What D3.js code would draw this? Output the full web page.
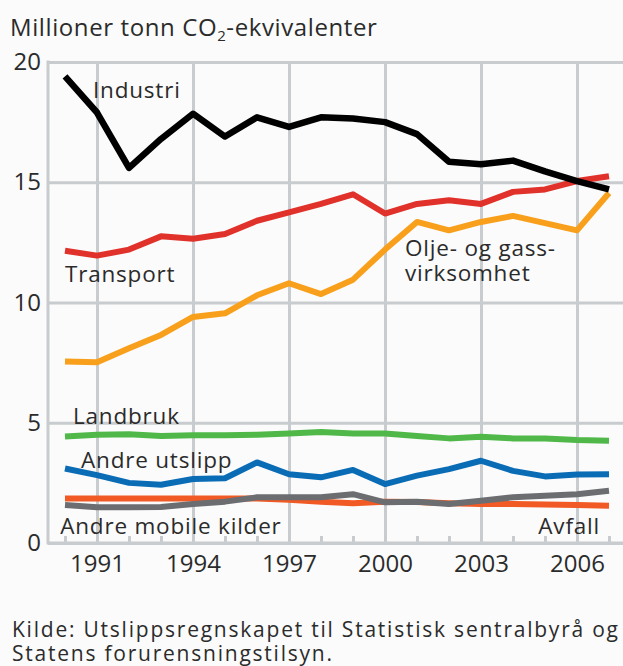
<!DOCTYPE html>
<html>
<head>
<meta charset="utf-8">
<script src="https://cdn.jsdelivr.net/npm/d3@7"></script>
<style>
  body { margin: 0; background: #fbfbfb; }
  svg { display: block; font-family: "Open Sans", sans-serif; }
  .grid line { stroke: #c8ccce; stroke-width: 3; }
  .grid path { display: none; }
  .grid .tick text { fill: #2b2b2b; font-size: 24px; font-family: "Open Sans", sans-serif; }
</style>
</head>
<body>
<div class="chart"></div>
<script>
// data
var years = d3.range(1990, 2008);
var labelYears = [1991, 1994, 1997, 2000, 2003, 2006];
var yTicks = [0, 5, 10, 15, 20];

var industri     = [19.4, 17.9, 15.6, 16.8, 17.85, 16.9, 17.7, 17.3, 17.7, 17.65, 17.5, 17.0, 15.85, 15.75, 15.9, 15.45, 15.05, 14.7];
var transport    = [12.15, 11.95, 12.2, 12.75, 12.65, 12.85, 13.4, 13.75, 14.1, 14.5, 13.7, 14.1, 14.25, 14.1, 14.6, 14.7, 15.05, 15.25];
var oljeGass     = [7.55, 7.52, 8.1, 8.65, 9.4, 9.55, 10.3, 10.8, 10.35, 10.95, 12.2, 13.35, 13.0, 13.35, 13.6, 13.3, 13.0, 14.55];
var landbruk     = [4.43, 4.5, 4.52, 4.45, 4.48, 4.48, 4.5, 4.55, 4.62, 4.55, 4.55, 4.45, 4.35, 4.42, 4.35, 4.35, 4.28, 4.25];
var andreUtslipp = [3.1, 2.82, 2.5, 2.42, 2.66, 2.69, 3.35, 2.86, 2.73, 3.04, 2.45, 2.8, 3.07, 3.42, 3.0, 2.77, 2.85, 2.86];
var avfall       = [1.85, 1.85, 1.85, 1.85, 1.85, 1.85, 1.85, 1.8, 1.72, 1.65, 1.72, 1.7, 1.65, 1.62, 1.62, 1.6, 1.58, 1.55];
var andreMobile  = [1.58, 1.49, 1.49, 1.5, 1.62, 1.72, 1.9, 1.9, 1.9, 2.03, 1.69, 1.72, 1.62, 1.76, 1.9, 1.96, 2.03, 2.17];

// drawing order: last on top
var series = [
  { name: "Avfall", values: avfall, color: "#f15a24" },
  { name: "Andre mobile kilder", values: andreMobile, color: "#6b6d70" },
  { name: "Andre utslipp", values: andreUtslipp, color: "#0b6cb6" },
  { name: "Landbruk", values: landbruk, color: "#4fb848" },
  { name: "Olje- og gassvirksomhet", values: oljeGass, color: "#f8a01c" },
  { name: "Transport", values: transport, color: "#e0312a" },
  { name: "Industri", values: industri, color: "#000000" }
];

// series labels, anchored in data units [year, value]
var labels = [
  { text: "Industri", at: [1990.875, 18.5], anchor: "start" },
  { text: "Transport", at: [1990, 10.85], anchor: "start" },
  { text: "Olje- og gass-", at: [2000.625, 11.95], anchor: "start" },
  { text: "virksomhet", at: [2000.625, 10.9], anchor: "start" },
  { text: "Landbruk", at: [1990.25, 4.95], anchor: "start" },
  { text: "Andre utslipp", at: [1990.5, 3.12], anchor: "start" },
  { text: "Andre mobile kilder", at: [1989.85, 0.37], anchor: "start" },
  { text: "Avfall", at: [2006.72, 0.37], anchor: "end" }
];

var svgWidth = 623;
var svgHeight = 666;
var plotLeft = 48, plotRight = 623, plotTop = 62, plotBottom = 543;

var svg = d3.select(".chart")
  .append("svg")
  .attr("width", svgWidth)
  .attr("height", svgHeight);

svg.append("rect")
  .attr("width", svgWidth)
  .attr("height", svgHeight)
  .attr("fill", "#fbfbfb");

var x = d3.scaleLinear().domain([1990, 2007]).range([65, 609]);
var y = d3.scaleLinear().domain([0, 20]).range([plotBottom, plotTop]);

// title
var title = svg.append("text")
  .attr("x", 10)
  .attr("y", 36)
  .attr("fill", "#2b2b2b")
  .style("font-size", "24px")
  .style("letter-spacing", "0.6px");
title.append("tspan").text("Millioner tonn CO");
title.append("tspan").text("2").style("font-size", "15px").attr("dy", 5);
title.append("tspan").text("-ekvivalenter").attr("dy", -5);

// horizontal grid + y labels
svg.append("g")
  .attr("class", "grid")
  .attr("transform", "translate(" + plotLeft + ",0)")
  .call(d3.axisLeft(y).tickValues(yTicks).tickSize(-(plotRight - plotLeft)).tickPadding(7));

// vertical grid + x labels
svg.append("g")
  .attr("class", "grid")
  .attr("transform", "translate(0," + plotBottom + ")")
  .call(d3.axisBottom(x).tickValues(labelYears).tickSize(-(plotBottom - plotTop)).tickPadding(12).tickFormat(d3.format("d")));

// small year ticks
svg.append("g")
  .attr("class", "grid")
  .attr("transform", "translate(0," + plotBottom + ")")
  .call(d3.axisBottom(x).tickValues(years).tickSize(-7).tickFormat(""));

// frame lines (left and bottom)
svg.append("line")
  .attr("x1", plotLeft).attr("x2", plotLeft)
  .attr("y1", plotTop - 1.5).attr("y2", plotBottom + 1.5)
  .attr("stroke", "#c8ccce").attr("stroke-width", 3);
svg.append("line")
  .attr("x1", plotLeft).attr("x2", plotRight)
  .attr("y1", plotBottom).attr("y2", plotBottom)
  .attr("stroke", "#c8ccce").attr("stroke-width", 3);

// lines
var line = d3.line()
  .x(function(d, i) { return x(years[i]); })
  .y(function(d) { return y(d); });

svg.append("g")
  .selectAll("path")
  .data(series)
  .enter()
  .append("path")
    .attr("d", function(d) { return line(d.values); })
    .attr("fill", "none")
    .attr("stroke", function(d) { return d.color; })
    .attr("stroke-width", function(d) { return d.name == "Industri" ? 6.5 : 6; })
    .attr("stroke-linejoin", "round");

// series labels
svg.append("g")
  .selectAll("text")
  .data(labels)
  .enter()
  .append("text")
    .attr("x", function(d) { return x(d.at[0]); })
    .attr("y", function(d) { return y(d.at[1]); })
    .attr("text-anchor", function(d) { return d.anchor; })
    .attr("fill", "#2b2b2b")
    .style("font-size", "22.5px")
    .style("letter-spacing", "0.8px")
    .text(function(d) { return d.text; });

// source
svg.append("text")
  .attr("x", 12).attr("y", 637)
  .attr("fill", "#2b2b2b")
  .style("font-size", "21px")
  .attr("textLength", 606)
  .attr("lengthAdjust", "spacing")
  .text("Kilde: Utslippsregnskapet til Statistisk sentralbyrå og");
svg.append("text")
  .attr("x", 12).attr("y", 661)
  .attr("fill", "#2b2b2b")
  .style("font-size", "21px")
  .attr("textLength", 320)
  .attr("lengthAdjust", "spacing")
  .text("Statens forurensningstilsyn.");
</script>
</body>
</html>
